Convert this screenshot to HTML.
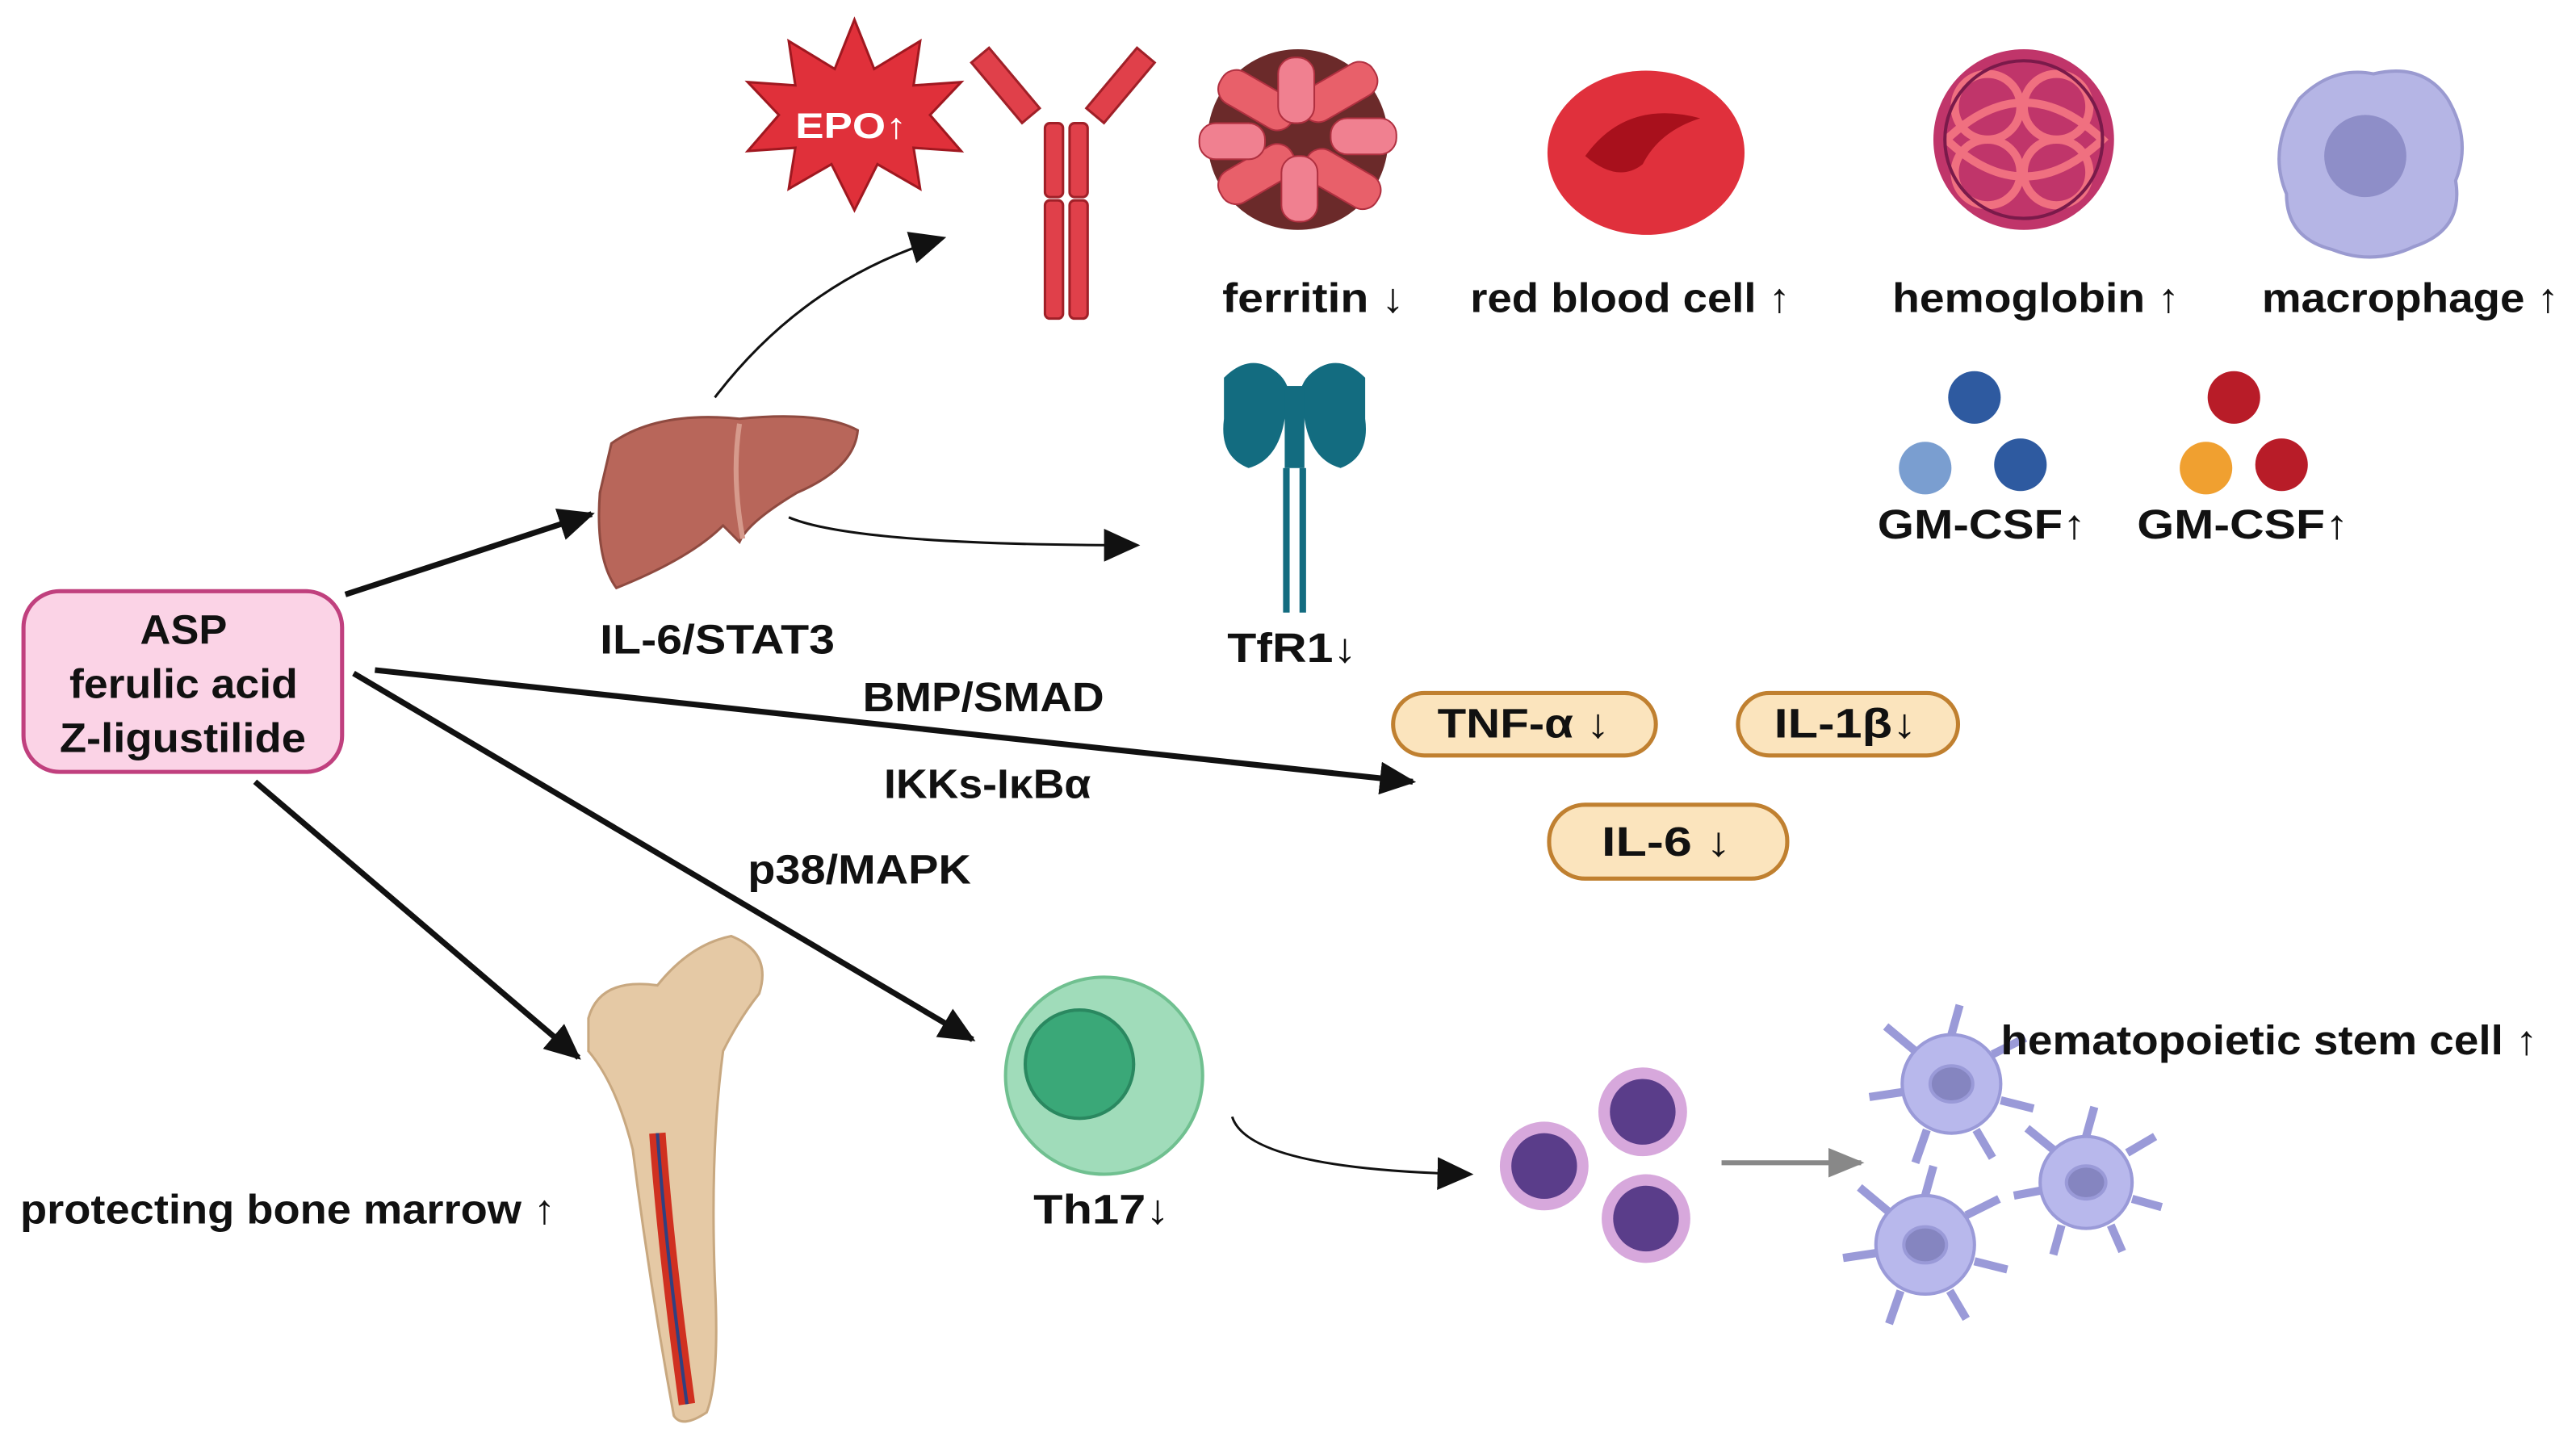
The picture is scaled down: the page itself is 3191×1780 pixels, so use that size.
<!DOCTYPE html>
<html><head><meta charset="utf-8"><style>
html,body{margin:0;padding:0;background:#fff;}
svg{display:block;}
text{font-family:"Liberation Sans","DejaVu Sans",sans-serif;font-weight:bold;fill:#111;}
</style></head><body>
<svg width="3191" height="1780" viewBox="0 0 1568 875" xmlns="http://www.w3.org/2000/svg">
<defs>
<marker id="ahb" markerWidth="22" markerHeight="20" refX="20" refY="10" orient="auto" markerUnits="userSpaceOnUse">
<path d="M0,0 L22,10 L0,20 z" fill="#111"/></marker>
<marker id="ahg" markerWidth="22" markerHeight="18" refX="20" refY="9" orient="auto" markerUnits="userSpaceOnUse">
<path d="M0,0 L22,9 L0,18 z" fill="#888"/></marker>
</defs>

<!-- ASP box -->
<rect x="14" y="360" width="194" height="110" rx="22" fill="#fbd3e6" stroke="#c0407e" stroke-width="2.5"/>
<text x="85" y="392" font-size="25" textLength="53" lengthAdjust="spacingAndGlyphs">ASP</text>
<text x="42" y="425" font-size="25" textLength="139" lengthAdjust="spacingAndGlyphs">ferulic acid</text>
<text x="36" y="458" font-size="25" textLength="150" lengthAdjust="spacingAndGlyphs">Z-ligustilide</text>

<!-- main arrows -->
<g stroke="#111" stroke-width="3.5" fill="none">
<line x1="210" y1="362" x2="360" y2="313" marker-end="url(#ahb)"/>
<line x1="228" y1="408" x2="860" y2="476" marker-end="url(#ahb)"/>
<line x1="215" y1="410" x2="592" y2="633" marker-end="url(#ahb)"/>
<line x1="155" y1="476" x2="352" y2="644" marker-end="url(#ahb)"/>
</g>
<g stroke="#111" stroke-width="1.5" fill="none">
<path d="M435,242 Q490,170 574,145" marker-end="url(#ahb)"/>
<path d="M480,315 Q520,332 692,332" marker-end="url(#ahb)"/>
<path d="M750,680 Q760,712 895,715" marker-end="url(#ahb)"/>
</g>
<line x1="1048" y1="708" x2="1133" y2="708" stroke="#888" stroke-width="3" marker-end="url(#ahg)"/>

<!-- liver -->
<path d="M372,270 Q400,250 450,255 Q500,250 522,262 Q520,285 485,300 Q455,318 450,330 L440,320 Q420,340 375,358 Q362,340 365,300 Z" fill="#b8665a" stroke="#8f4a40" stroke-width="1.5"/>
<path d="M450,258 Q445,290 452,328" stroke="#d69a8c" stroke-width="3" fill="none"/>
<text x="365" y="398" font-size="25" textLength="143" lengthAdjust="spacingAndGlyphs">IL-6/STAT3</text>

<!-- EPO star -->
<polygon points="520,12 532,42 560,25 556,52 585,50 566,70 585,92 556,90 560,115 534,100 520,128 506,100 480,115 484,90 455,92 474,70 455,50 484,52 480,25 508,42" fill="#e0303a" stroke="#a01820" stroke-width="1.5"/>
<text x="484" y="84" font-size="22" textLength="68" lengthAdjust="spacingAndGlyphs" style="fill:#fff">EPO↑</text>

<!-- antibody -->
<g fill="#e0404a" stroke="#a02028" stroke-width="1.5">
<rect x="605" y="28" width="14" height="48" transform="rotate(-40 612 52)"/>
<rect x="675" y="28" width="14" height="48" transform="rotate(40 682 52)"/>
<rect x="636" y="75" width="11" height="45" rx="3"/><rect x="651" y="75" width="11" height="45" rx="3"/>
<rect x="636" y="122" width="11" height="72" rx="3"/><rect x="651" y="122" width="11" height="72" rx="3"/>
</g>

<!-- ferritin -->
<circle cx="790" cy="85" r="55" fill="#6b2a2a"/>
<g fill="#e8606a" stroke="#b03040" stroke-width="1">
<rect x="740" y="50" width="50" height="22" rx="10" transform="rotate(30 765 61)"/>
<rect x="790" y="45" width="50" height="22" rx="10" transform="rotate(-30 815 56)"/>
<rect x="740" y="95" width="50" height="22" rx="10" transform="rotate(-30 765 106)"/>
<rect x="792" y="98" width="50" height="22" rx="10" transform="rotate(30 817 109)"/>
<rect x="778" y="35" width="22" height="40" rx="10" fill="#f08090"/>
<rect x="780" y="95" width="22" height="40" rx="10" fill="#f08090"/>
<rect x="730" y="75" width="40" height="22" rx="10" fill="#f08090"/>
<rect x="810" y="72" width="40" height="22" rx="10" fill="#f08090"/>
</g>
<text x="744" y="190" font-size="25" textLength="111" lengthAdjust="spacingAndGlyphs">ferritin ↓</text>

<!-- RBC -->
<ellipse cx="1002" cy="93" rx="60" ry="50" fill="#e0303c"/>
<path d="M965,95 Q990,60 1035,72 Q1010,80 1000,100 Q985,112 965,95 Z" fill="#a8101c"/>
<text x="895" y="190" font-size="25" textLength="195" lengthAdjust="spacingAndGlyphs">red blood cell ↑</text>

<!-- hemoglobin -->
<circle cx="1232" cy="85" r="55" fill="#c0356a"/>
<g fill="none" stroke="#f07080" stroke-width="5">
<circle cx="1210" cy="65" r="20"/><circle cx="1252" cy="65" r="20"/>
<circle cx="1210" cy="105" r="20"/><circle cx="1252" cy="105" r="20"/>
<path d="M1185,85 Q1232,40 1280,85 Q1232,130 1185,85"/>
</g>
<g fill="none" stroke="#7a1a4a" stroke-width="2"><circle cx="1232" cy="85" r="48"/></g>
<text x="1152" y="190" font-size="25" textLength="175" lengthAdjust="spacingAndGlyphs">hemoglobin ↑</text>

<!-- macrophage -->
<path d="M1400,60 Q1420,40 1445,45 Q1475,38 1490,60 Q1505,85 1495,110 Q1500,140 1470,150 Q1445,162 1420,152 Q1392,145 1392,118 Q1380,90 1400,60 Z" fill="#b5b5e5" stroke="#9a9ad0" stroke-width="2"/>
<circle cx="1440" cy="95" r="25" fill="#8e8ec8"/>
<text x="1377" y="190" font-size="25" textLength="181" lengthAdjust="spacingAndGlyphs">macrophage ↑</text>

<!-- TfR1 -->
<g fill="#136c80">
<path d="M745,230 Q760,215 775,225 Q790,235 782,255 Q778,280 760,285 Q742,278 745,255 Z"/>
<path d="M831,230 Q816,215 801,225 Q786,235 794,255 Q798,280 816,285 Q834,278 831,255 Z"/>
<rect x="782" y="235" width="12" height="50"/>
</g>
<rect x="781" y="285" width="4" height="88" fill="#136c80"/>
<rect x="791" y="285" width="4" height="88" fill="#136c80"/>
<text x="747" y="403" font-size="25" textLength="79" lengthAdjust="spacingAndGlyphs">TfR1↓</text>

<!-- GM-CSF -->
<circle cx="1202" cy="242" r="16" fill="#2e5aa0"/>
<circle cx="1172" cy="285" r="16" fill="#7a9ed0"/>
<circle cx="1230" cy="283" r="16" fill="#2e5aa0"/>
<text x="1143" y="328" font-size="25" textLength="127" lengthAdjust="spacingAndGlyphs">GM-CSF↑</text>
<circle cx="1360" cy="242" r="16" fill="#b81c28"/>
<circle cx="1343" cy="285" r="16" fill="#f0a030"/>
<circle cx="1389" cy="283" r="16" fill="#b81c28"/>
<text x="1301" y="328" font-size="25" textLength="129" lengthAdjust="spacingAndGlyphs">GM-CSF↑</text>

<!-- pathway labels -->
<text x="525" y="433" font-size="25" textLength="147" lengthAdjust="spacingAndGlyphs">BMP/SMAD</text>
<text x="538" y="486" font-size="25" textLength="126" lengthAdjust="spacingAndGlyphs">IKKs-IκBα</text>
<text x="455" y="538" font-size="25" textLength="136" lengthAdjust="spacingAndGlyphs">p38/MAPK</text>

<!-- pills -->
<g fill="#fbe4bd" stroke="#c08030" stroke-width="2.5">
<rect x="848" y="422" width="160" height="38" rx="19"/>
<rect x="1058" y="422" width="134" height="38" rx="19"/>
<rect x="943" y="490" width="145" height="45" rx="22"/>
</g>
<text x="875" y="449" font-size="25" textLength="105" lengthAdjust="spacingAndGlyphs">TNF-α ↓</text>
<text x="1080" y="449" font-size="25" textLength="87" lengthAdjust="spacingAndGlyphs">IL-1β↓</text>
<text x="975" y="521" font-size="25" textLength="79" lengthAdjust="spacingAndGlyphs">IL-6 ↓</text>

<!-- bone -->
<path d="M358,620 Q365,595 400,600 Q420,575 445,570 Q470,580 462,605 Q450,620 440,640 Q432,700 435,780 Q438,840 430,860 Q415,870 410,862 Q395,780 385,700 Q375,660 358,640 Z" fill="#e5c9a5" stroke="#c8a880" stroke-width="1.5"/>
<path d="M400,690 Q405,760 418,855" stroke="#d03020" stroke-width="10" fill="none"/>
<path d="M400,690 Q405,760 418,855" stroke="#304080" stroke-width="2" fill="none"/>
<text x="12" y="745" font-size="25" textLength="326" lengthAdjust="spacingAndGlyphs">protecting bone marrow ↑</text>

<!-- Th17 -->
<circle cx="672" cy="655" r="60" fill="#a0dcba" stroke="#70c090" stroke-width="2"/>
<circle cx="657" cy="648" r="33" fill="#3aa878" stroke="#2a8860" stroke-width="2"/>
<text x="629" y="745" font-size="25" textLength="83" lengthAdjust="spacingAndGlyphs">Th17↓</text>

<!-- purple cells -->
<g><circle cx="940" cy="710" r="27" fill="#d7a8dc"/><circle cx="940" cy="710" r="20" fill="#5a3d8a"/>
<circle cx="1000" cy="677" r="27" fill="#d7a8dc"/><circle cx="1000" cy="677" r="20" fill="#5a3d8a"/>
<circle cx="1002" cy="742" r="27" fill="#d7a8dc"/><circle cx="1002" cy="742" r="20" fill="#5a3d8a"/></g>

<!-- HSC spiky -->
<g fill="#b8b8ec" stroke="#9a9ad8" stroke-width="2">
<g transform="translate(1188,660)"><circle r="30"/><path d="M0,-30 L5,-48 M25,-18 L45,-28 M30,10 L50,15 M15,28 L25,45 M-15,28 L-22,48 M-30,5 L-50,8 M-22,-20 L-40,-35" stroke-width="5"/><ellipse rx="13" ry="11" fill="#8585c0"/></g>
<g transform="translate(1172,758)"><circle r="30"/><path d="M0,-30 L5,-48 M25,-18 L45,-28 M30,10 L50,15 M15,28 L25,45 M-15,28 L-22,48 M-30,5 L-50,8 M-22,-20 L-40,-35" stroke-width="5"/><ellipse rx="13" ry="11" fill="#8585c0"/></g>
<g transform="translate(1270,720)"><circle r="28"/><path d="M0,-28 L5,-46 M25,-18 L42,-28 M28,10 L46,15 M15,26 L22,42 M-15,26 L-20,44 M-28,5 L-44,8 M-20,-20 L-36,-33" stroke-width="5"/><ellipse rx="12" ry="10" fill="#8585c0"/></g>
</g>
<text x="1218" y="642" font-size="25" textLength="327" lengthAdjust="spacingAndGlyphs">hematopoietic stem cell ↑</text>
</svg>
</body></html>
